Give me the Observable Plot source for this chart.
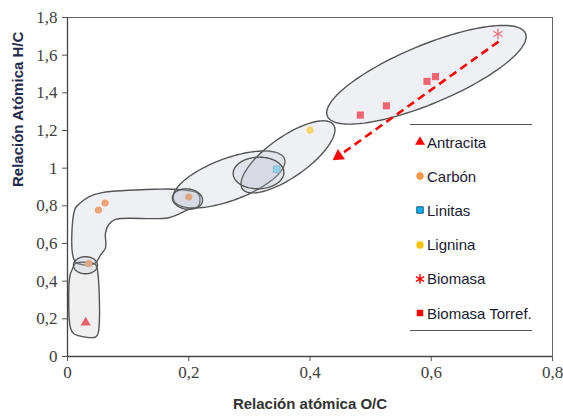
<!DOCTYPE html>
<html>
<head>
<meta charset="utf-8">
<script src="https://cdn.jsdelivr.net/npm/d3@7"></script>
<script src="https://cdn.jsdelivr.net/npm/@observablehq/plot@0.6"></script>
<style>
  html, body { margin: 0; padding: 0; background: #fff; }
  #wrap { position: relative; width: 563px; height: 417px; overflow: hidden; }
  #legend { position: absolute; left: 410px; top: 124px; width: 122px;
            border-top: 1.5px solid #555; border-bottom: 1.5px solid #555; }
  .row { height: 34.2px; display: flex; align-items: center;
         font-family: "Liberation Sans", Arial, sans-serif; font-size: 15px; color: #1a1a33; }
  .row svg { margin-left: 4px; margin-right: 1px; flex: none; }
</style>
</head>
<body>
<div id="wrap"><div id="chart"></div><div id="legend"></div></div>
<script>
// ---- tick labels ----
const xTicks = [0, 0.2, 0.4, 0.6, 0.8];
const yTicks = [0, 0.2, 0.4, 0.6, 0.8, 1, 1.2, 1.4, 1.6, 1.8];
const xTitle = "Relación atómica O/C";
const yTitle = "Relación Atómica H/C";

// ---- series values (O/C, H/C) ----
const antracitaX = [0.03];
const antracitaY = [0.18];
const carbonX = [0.051, 0.062, 0.035, 0.2];
const carbonY = [0.778, 0.815, 0.494, 0.847];
const linitasX = [0.345];
const linitasY = [0.994];
const ligninaX = [0.4];
const ligninaY = [1.202];
const biomasaX = [0.71];
const biomasaY = [1.713];
const torrefX = [0.483, 0.526, 0.593, 0.607];
const torrefY = [1.282, 1.331, 1.461, 1.486];

// ---- torrefaction trend arrow (from biomass towards coal) ----
const arrowFrom = [0.711, 1.672];
const arrowTo = [0.447, 1.064];

// ---- legend ----
const legendLabels = ["Antracita", "Carbón", "Linitas", "Lignina", "Biomasa", "Biomasa Torref."];
const legendColors = ["#ff0000", "#f79646", "#00b0f0", "#ffc000", "#ff0000", "#ff0000"];
const legendSymbols = ["triangle", "circle", "square", "circle", "asterisk", "square"];

// ---- region outlines (data space) ----
const carbonRegion = [
  [0.012, 0.506], [0.012, 0.781], [0.0186, 0.808], [0.0351, 0.848], [0.0572, 0.870],
  [0.1452, 0.888], [0.1831, 0.887], [0.2161, 0.863], [0.2161, 0.799], [0.2001, 0.781],
  [0.1671, 0.737], [0.0792, 0.728], [0.0681, 0.701], [0.0627, 0.657], [0.0627, 0.577],
  [0.0544, 0.538], [0.0462, 0.497], [0.0297, 0.485]
];
const antracitaRegion = [
  [0.0078, 0.462], [0.0132, 0.494], [0.0462, 0.488], [0.0500, 0.444], [0.0506, 0.124],
  [0.0462, 0.103], [0.0297, 0.103], [0.0104, 0.121], [0.0049, 0.151], [0.0038, 0.426]
];
// ellipses: center, end of first semi-axis, end of second semi-axis
const bigEllipses = [
  {c: [0.2664, 0.940], a: [0.3579, 1.049], b: [0.2545, 1.045]},
  {c: [0.3637, 1.060], a: [0.4388, 1.230], b: [0.3447, 1.148]},
  {c: [0.3151, 0.9745], a: [0.3564, 0.990], b: [0.3086, 1.057]},
  {c: [0.592, 1.496], a: [0.7555, 1.715], b: [0.5740, 1.640]}
];
const smallEllipses = [
  {c: [0.1979, 0.836], a: [0.2227, 0.8254], b: [0.2001, 0.8893]},
  {c: [0.0297, 0.4846], a: [0.0495, 0.4846], b: [0.0297, 0.530]}
];

const pts = (xs, ys) => xs.map((x, i) => ({x, y: ys[i]}));
const poly = arr => arr.map(([x, y]) => ({x, y}));
function ellipse(e, n = 120) {
  const out = [];
  for (let i = 0; i < n; i++) {
    const t = 2 * Math.PI * i / n;
    out.push({
      x: e.c[0] + Math.cos(t) * (e.a[0] - e.c[0]) + Math.sin(t) * (e.b[0] - e.c[0]),
      y: e.c[1] + Math.cos(t) * (e.a[1] - e.c[1]) + Math.sin(t) * (e.b[1] - e.c[1])
    });
  }
  return out;
}
const fmt = d => String(+(+d).toFixed(1)).replace(".", ",");
const shapeStyle = {x: "x", y: "y", fill: "#afb4c8", fillOpacity: 0.2, stroke: "#555", strokeWidth: 1.4};
const serif = "Liberation Serif";
const sans = "Liberation Sans";

const marks = [
  Plot.frame({stroke: "#666", strokeWidth: 1}),
  Plot.line(poly(carbonRegion), {...shapeStyle, curve: "catmull-rom-closed"}),
  Plot.line(poly(antracitaRegion), {...shapeStyle, fill: "#b4b4b4", curve: "catmull-rom-closed"}),
  ...bigEllipses.map(e => Plot.line(ellipse(e), {...shapeStyle, curve: "linear-closed"})),
  // tick marks from the axes, labels drawn as text marks (serif face)
  Plot.axisX({ticks: xTicks, tickFormat: () => "", tickSize: 5, label: null, stroke: "#555"}),
  Plot.axisY({ticks: yTicks, tickFormat: () => "", tickSize: 5, label: null, stroke: "#555"}),
  Plot.text(xTicks, {x: d => d, text: fmt, frameAnchor: "bottom", dy: 21,
                     fontFamily: serif, fontSize: 17, fill: "#404040"}),
  Plot.text(yTicks, {y: d => d, text: fmt, frameAnchor: "left", dx: -10, textAnchor: "end",
                     fontFamily: serif, fontSize: 17, fill: "#404040"}),
  Plot.ruleX([0], {stroke: "#444", strokeWidth: 1.3}),
  Plot.ruleY([0], {stroke: "#444", strokeWidth: 1.3}),
  Plot.dot(pts(antracitaX, antracitaY), {x: "x", y: "y", symbol: "triangle", r: 3.8, fill: "#f0606c"}),
  Plot.dot(pts(carbonX, carbonY), {x: "x", y: "y", symbol: "circle", r: 3.6, fill: "#eea273"}),
  Plot.dot(pts(linitasX, linitasY), {x: "x", y: "y", symbol: "square", r: 3.8, fill: "#8fd3ee", stroke: "#8ab4c8", strokeWidth: 0.8}),
  Plot.dot(pts(ligninaX, ligninaY), {x: "x", y: "y", symbol: "circle", r: 3.6, fill: "#f6d56a"}),
  Plot.dot(pts(torrefX, torrefY), {x: "x", y: "y", symbol: "square", r: 4, fill: "#f0636f"}),
  Plot.dot(pts(biomasaX, biomasaY), {x: "x", y: "y", symbol: "asterisk", r: 5, stroke: "#f07484", strokeWidth: 1.3}),
  ...smallEllipses.map(e => Plot.line(ellipse(e), {...shapeStyle, curve: "linear-closed"})),
  Plot.link([{x1: arrowFrom[0], y1: arrowFrom[1], x2: arrowTo[0], y2: arrowTo[1]}],
            {x1: "x1", y1: "y1", x2: "x2", y2: "y2", stroke: "#ff0000", strokeWidth: 2.6, strokeDasharray: "8,5"}),
  Plot.dot([{x: arrowTo[0], y: arrowTo[1]}], {x: "x", y: "y", symbol: "triangle", r: 4.6, fill: "#ff0000", rotate: 235}),
  Plot.text([xTitle], {frameAnchor: "bottom", dy: 52, fontFamily: sans,
                       fontWeight: "bold", fontSize: 15, fill: "#333"}),
  Plot.text([yTitle], {frameAnchor: "left", dx: -49, rotate: -90, fontFamily: sans,
                       fontWeight: "bold", fontSize: 15, fill: "#1f2a4d"})
];

const chart = Plot.plot({
  width: 563, height: 417,
  marginLeft: 67, marginRight: 11, marginTop: 17, marginBottom: 61,
  x: {domain: [0, 0.8]},
  y: {domain: [0, 1.8]},
  marks
});
document.getElementById("chart").appendChild(chart);

// legend (HTML overlay inside the plot area)
const symMap = {triangle: d3.symbolTriangle, circle: d3.symbolCircle, square: d3.symbolSquare, asterisk: d3.symbolAsterisk};
const legend = d3.select("#legend");
legendLabels.forEach((lab, i) => {
  const row = legend.append("div").attr("class", "row");
  const svg = row.append("svg").attr("width", 12).attr("height", 12);
  const s = legendSymbols[i];
  const path = svg.append("path")
    .attr("transform", "translate(6,6)")
    .attr("d", d3.symbol(symMap[s], s === "asterisk" ? 60 : 42)());
  if (s === "asterisk") path.attr("fill", "none").attr("stroke", legendColors[i]).attr("stroke-width", 1.4);
  else path.attr("fill", legendColors[i]).attr("stroke", s === "square" && i === 2 ? "#215e7c" : "none");
  row.append("span").text(lab);
});
</script>
</body>
</html>
